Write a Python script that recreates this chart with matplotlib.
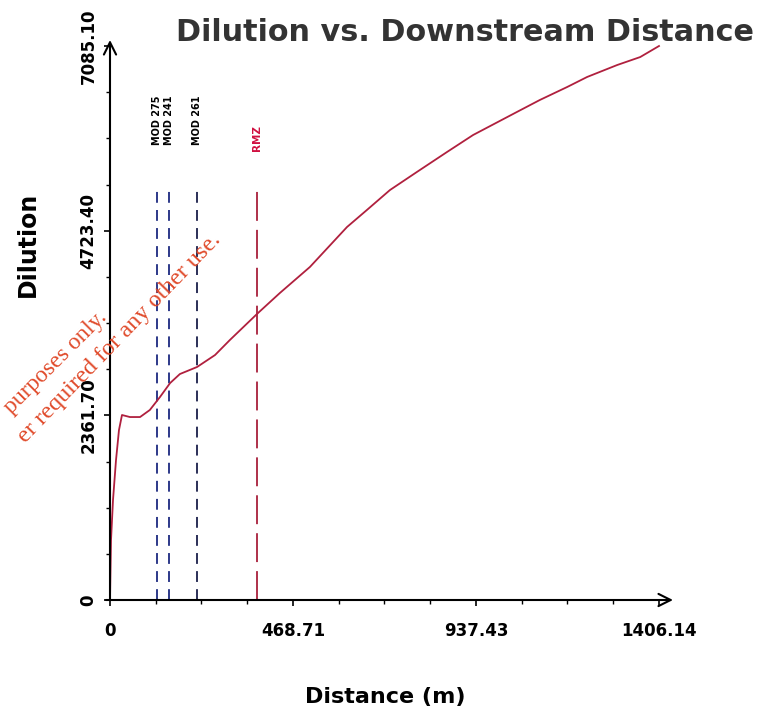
import numpy as np
import matplotlib
matplotlib.use("Agg")
from matplotlib import pyplot as plt

# dilution profile along the plume centreline
distance = [0, 2.6, 7.7, 15.4, 23, 30.7, 51, 77, 102, 128, 154, 179, 223, 269,
            307, 379, 435, 512, 607, 658, 717, 786, 863, 930, 1042, 1101,
            1171, 1222, 1299, 1358, 1406.14]
dilution = [0, 767, 1279, 1790, 2174, 2366, 2340, 2340, 2430, 2596, 2775, 2890,
            2980, 3133, 3325, 3670, 3926, 4259, 4770, 4988, 5243, 5474, 5729,
            5947, 6241, 6395, 6561, 6689, 6842, 6944, 7085.10]

# vertical markers
marker_names = ["MOD 275", "MOD 241", "MOD 261", "RMZ"]
marker_x = [120.2, 149.9, 222.0, 376.2]
marker_top = 5269

x_ticks = [0, 468.71, 937.43, 1406.14]
x_tick_labels = ["0", "468.71", "937.43", "1406.14"]
y_ticks = [0, 2361.70, 4723.40, 7085.10]
y_tick_labels = ["0", "2361.70", "4723.40", "7085.10"]

xmax = 1442
ymax = 7162

fig = plt.figure(figsize=(7.65, 7.18), dpi=100)
ax = fig.add_axes([110 / 765, 1 - 600 / 718, 563 / 765, 560 / 718])
ax.set_xlim(0, xmax)
ax.set_ylim(0, ymax)

for s in ax.spines.values():
    s.set_visible(False)

# axis lines with open arrow heads
ax.annotate("", xy=(xmax, 0), xytext=(-10, 0), xycoords="data",
            arrowprops=dict(arrowstyle="->", lw=1.5, color="black",
                            mutation_scale=22, shrinkA=0, shrinkB=0),
            annotation_clip=False)
ax.annotate("", xy=(0, ymax), xytext=(0, 0), xycoords="data",
            arrowprops=dict(arrowstyle="->", lw=1.5, color="black",
                            mutation_scale=22, shrinkA=0, shrinkB=0),
            annotation_clip=False)

ax.set_xticks(x_ticks)
ax.set_xticklabels(x_tick_labels, fontsize=12, fontweight="bold")
ax.set_xticks(np.arange(0, 1406.2, 1406.14 / 12), minor=True)
ax.set_yticks(y_ticks)
ax.set_yticklabels(y_tick_labels, fontsize=12, fontweight="bold",
                   rotation=90, va="center")
ax.set_yticks(np.arange(0, 7085.2, 7085.10 / 12), minor=True)
ax.tick_params(axis="both", which="major", length=4, width=1.2, direction="out")
ax.tick_params(axis="both", which="minor", length=3, width=1.0, direction="out")
ax.tick_params(axis="x", which="major", pad=12)
ax.tick_params(axis="y", which="major", pad=5)

# marker lines
line_colors = ["#1c2a80", "#1c2a80", "#1a1f4a", "#a8203c"]
for name, xm, c in zip(marker_names, marker_x, line_colors):
    if name == "RMZ":
        ax.plot([xm, xm], [0, marker_top], color=c, lw=1.3, dashes=(16, 5))
        ax.text(xm, 5909, name, rotation=90, color="#d01040", fontsize=7.5,
                fontweight="bold", ha="center", va="center")
    else:
        ax.plot([xm, xm], [0, marker_top], color=c, lw=1.3, dashes=(6, 4))
        ax.text(xm, 6140, name, rotation=90, color="black", fontsize=7,
                fontweight="bold", ha="center", va="center")

ax.plot(distance, dilution, color="#b0203e", lw=1.3)

fig.text(0.608, 0.955, "Dilution vs. Downstream Distance", fontsize=21.8,
         fontweight="heavy", color="#333333", ha="center", va="center")
fig.text(0.503, 0.029, "Distance (m)", fontsize=16, fontweight="heavy",
         ha="center", va="center")
fig.text(0.036, 0.659, "Dilution", fontsize=17, fontweight="heavy",
         rotation=90, ha="center", va="center")

# stamp across the left side
fig.text(108 / 765, 1 - 318 / 718, "purposes only.", fontsize=17,
         family="Liberation Serif", color="#e04a2a", rotation=45,
         rotation_mode="anchor", ha="right", va="baseline")
fig.text(222 / 765, 1 - 240 / 718, "er required for any other use.",
         fontsize=17.5, family="Liberation Serif", color="#e04a2a",
         rotation=46, rotation_mode="anchor", ha="right", va="baseline")

fig.savefig("out.png", dpi=100)
